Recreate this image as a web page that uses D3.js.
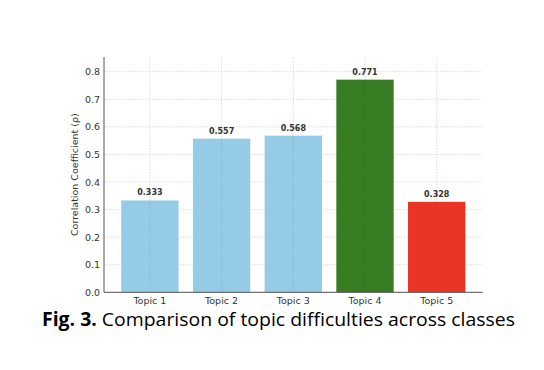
<!DOCTYPE html>
<html><head><meta charset="utf-8">
<script src="https://cdn.jsdelivr.net/npm/d3@7"></script>
<style>body{margin:0;background:#fff}svg{display:block}</style>
</head><body>
<svg id="c" width="544" height="370"></svg>
<script>
const categories = ["Topic 1","Topic 2","Topic 3","Topic 4","Topic 5"];
const values = [0.333,0.557,0.568,0.771,0.328];
const barColors = ["#96cbe8","#96cbe8","#96cbe8","#387c24","#e83525"];
const yTicks = [0,0.1,0.2,0.3,0.4,0.5,0.6,0.7,0.8];
const yLabel = "Correlation Coefficient (ρ)";

const svg = d3.select("#c");
const L=104, R=482.6, T=57, B=292.3;
const x = d3.scaleBand().domain(categories).range([L,R]).paddingInner(0.2).paddingOuter(0.24);
const y = d3.scaleLinear().domain([0,0.85]).range([B,B-0.85*275.8]);

const g = svg.append("g");
// grid
g.selectAll(".hg").data(yTicks).join("line")
  .attr("x1",L).attr("x2",R).attr("y1",d=>y(d)).attr("y2",d=>y(d))
  .attr("stroke","#d0d0d0").attr("stroke-width",0.8).attr("stroke-dasharray","1.5,1.5");
g.selectAll(".vg").data(categories).join("line")
  .attr("x1",d=>x(d)+x.bandwidth()/2).attr("x2",d=>x(d)+x.bandwidth()/2)
  .attr("y1",y(0.85)).attr("y2",B)
  .attr("stroke","#d0d0d0").attr("stroke-width",0.8).attr("stroke-dasharray","1.5,1.5");

// bars
g.selectAll(".bar").data(values).join("rect")
  .attr("x",(d,i)=>x(categories[i])).attr("width",x.bandwidth())
  .attr("y",d=>y(d)).attr("height",d=>B-y(d))
  .attr("fill",(d,i)=>barColors[i]);
// grid over bars (faint, as in reference)
g.selectAll(".vg2").data(categories).join("line")
  .attr("x1",d=>x(d)+x.bandwidth()/2).attr("x2",d=>x(d)+x.bandwidth()/2)
  .attr("y1",d=>y(values[categories.indexOf(d)])).attr("y2",B)
  .attr("stroke","rgba(0,0,0,0.12)").attr("stroke-width",0.8).attr("stroke-dasharray","1.5,1.5");

// value labels
g.selectAll(".vl").data(values).join("text")
  .attr("x",(d,i)=>x(categories[i])+x.bandwidth()/2).attr("y",d=>y(d)-5)
  .attr("text-anchor","middle").attr("font-family","DejaVu Sans").attr("font-weight","bold")
  .attr("font-size",8).attr("fill","#333").text(d=>d.toFixed(3));

// axes
const ya = svg.append("g").attr("transform",`translate(${L},0)`)
  .call(d3.axisLeft(y).tickValues(yTicks).tickFormat(d3.format(".1f")).tickSize(0).tickPadding(4));
ya.select(".domain").remove();
ya.selectAll("text").attr("font-family","DejaVu Sans").attr("font-size",9.5).attr("fill","#333");
const xa = svg.append("g").attr("transform",`translate(0,${B})`)
  .call(d3.axisBottom(x).tickSize(0).tickPadding(5));
xa.select(".domain").remove();
xa.selectAll("text").attr("font-family","DejaVu Sans").attr("font-size",9.5).attr("fill","#333");

svg.append("line").attr("x1",L).attr("x2",L).attr("y1",T).attr("y2",B).attr("stroke","#555").attr("stroke-width",1);
svg.append("line").attr("x1",L).attr("x2",R).attr("y1",B).attr("y2",B).attr("stroke","#555").attr("stroke-width",1);

svg.append("text").attr("transform",`translate(78,${(T+B)/2+0}) rotate(-90)`)
  .attr("text-anchor","middle").attr("font-family","DejaVu Sans").attr("font-size",9.5).attr("fill","#333")
  .text(yLabel);

// caption
const cap = svg.append("text").attr("x",42).attr("y",326).attr("font-family","Open Sans").attr("font-size",19)
  .attr("fill","#000").attr("textLength",473).attr("lengthAdjust","spacingAndGlyphs");
cap.append("tspan").attr("font-weight","bold").text("Fig. 3.");
cap.append("tspan").text(" Comparison of topic difficulties across classes");
</script>
</body></html>
